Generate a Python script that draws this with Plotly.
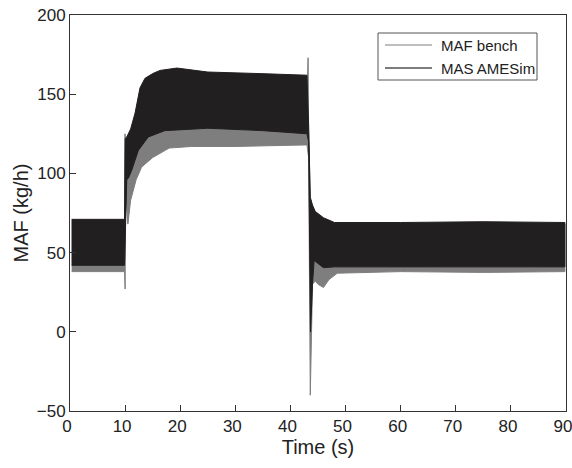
import plotly.graph_objects as go

# ---- data (envelopes of the fast-oscillating signals) ----
# MAS AMESim (dark) upper envelope
sim_up_t = [0.3, 9.9, 10.0, 10.3, 11.0, 11.8, 12.7, 13.6, 15.0, 16.3, 19.4, 25.0, 34.5, 43.0, 43.3, 43.6, 44.0, 44.5, 46.0, 48.0, 60.0, 75.0, 89.8]
sim_up_v = [71, 71, 122, 123, 128, 138, 154, 160, 163, 165, 166.5, 164, 163, 162, 130, 85, 80, 76, 72, 69, 69, 69.5, 69]
# MAS AMESim (dark) lower envelope
sim_lo_t = [0.3, 9.9, 10.0, 10.3, 10.6, 11.2, 12.4, 14.2, 17.2, 25.0, 35.0, 43.0, 43.3, 43.5, 43.65, 44.0, 44.3, 46.0, 48.0, 60.0, 75.0, 89.8]
sim_lo_v = [42, 42, 42, 96, 97, 102, 114.5, 123, 127, 128.5, 127, 125, 120, 50, 0, 30, 45, 40.5, 41, 41, 41, 41]

# MAF bench (grey) upper envelope
bench_up_t = [0.3, 9.9, 9.98, 10.03, 10.3, 11.0, 11.8, 12.7, 13.6, 15.0, 16.3, 19.4, 25.0, 34.5, 43.1, 43.2, 43.3, 43.6, 44.0, 44.5, 46.0, 48.0, 60.0, 75.0, 89.8]
bench_up_v = [70, 70, 125, 122, 121, 126, 136, 152, 158, 161, 163, 164, 162, 161, 160, 173, 128, 84, 79, 75, 71, 68, 68, 68.5, 68]
# MAF bench (grey) lower envelope
bench_lo_t = [0.3, 9.9, 10.0, 10.1, 10.5, 11.0, 12.0, 13.0, 15.0, 18.0, 22.0, 30.0, 43.0, 43.3, 43.6, 43.8, 44.0, 44.5, 45.0, 46.0, 47.0, 48.5, 60.0, 75.0, 89.8]
bench_lo_v = [38, 38, 27, 90, 68, 83, 96, 104, 110, 116, 117, 117, 118, 110, -40, -10, 30, 32, 30, 28, 33, 37, 38, 37.5, 38]

series_names = ["MAF bench", "MAS AMESim"]
legend_colors = ["#a9a9a9", "#505050"]
x_ticks = [0, 10, 20, 30, 40, 50, 60, 70, 80, 90]
y_ticks = [-50, 0, 50, 100, 150, 200]


def band(up_t, up_v, lo_t, lo_v):
    return up_t + lo_t[::-1], up_v + lo_v[::-1]


fig = go.Figure()

bx, by = band(bench_up_t, bench_up_v, bench_lo_t, bench_lo_v)
fig.add_trace(go.Scatter(x=bx, y=by, fill="toself", mode="lines", name=series_names[0],
                         line=dict(color="#7e7e7e", width=1),
                         fillcolor="#7e7e7e", showlegend=False, hoverinfo="skip"))
sx, sy = band(sim_up_t, sim_up_v, sim_lo_t, sim_lo_v)
fig.add_trace(go.Scatter(x=sx, y=sy, fill="toself", mode="lines", name=series_names[1],
                         line=dict(color="#221f20", width=1),
                         fillcolor="#221f20", showlegend=False, hoverinfo="skip"))

# hand-drawn legend box (paper coordinates), matching the reference layout
W, H = 572, 468
L, R, T, B = 70, 6, 15, 57
pw, ph = W - L - R, H - T - B


def px(xp):
    return (xp - L) / pw


def py(yp):
    return (H - B - yp) / ph


shapes = [dict(type="rect", xref="paper", yref="paper",
               x0=px(378), x1=px(537), y0=py(80), y1=py(33),
               line=dict(color="#555555", width=1), fillcolor="white", layer="above")]
annotations = []
for i, (nm, col) in enumerate(zip(series_names, legend_colors)):
    yy = 45 + i * 23
    shapes.append(dict(type="line", xref="paper", yref="paper",
                       x0=px(385), x1=px(432), y0=py(yy), y1=py(yy),
                       line=dict(color=col, width=1.5), layer="above"))
    annotations.append(dict(xref="paper", yref="paper", x=px(439), y=py(yy),
                            xanchor="left", yanchor="middle", showarrow=False,
                            text=nm, font=dict(family="Liberation Sans, Arial, sans-serif",
                                               size=15, color="#222222")))

axis_font = dict(family="Liberation Sans, Arial, sans-serif", size=17, color="#222222")

fig.update_layout(
    width=W, height=H,
    margin=dict(l=L, r=R, t=T, b=B, autoexpand=False),
    paper_bgcolor="white", plot_bgcolor="white",
    font=axis_font,
    showlegend=False,
    shapes=shapes, annotations=annotations,
    xaxis=dict(range=[0, 90], tickvals=x_ticks, ticks="inside", ticklen=6,
               tickcolor="#333333", showline=True, linecolor="#333333", linewidth=1,
               mirror=True, showgrid=False, zeroline=False, ticklabeloverflow="allow",
               automargin=False, ticklabelshift=-3,
               title=dict(text="Time (s)", standoff=4), tickfont=axis_font),
    yaxis=dict(range=[-50, 200], tickvals=y_ticks, ticks="inside", ticklen=6,
               tickcolor="#333333", showline=True, linecolor="#333333", linewidth=1,
               mirror=True, showgrid=False, zeroline=False, ticklabeloverflow="allow",
               automargin=False,
               title=dict(text="MAF (kg/h)", standoff=2), tickfont=axis_font),
)

fig.write_html("out.html")
